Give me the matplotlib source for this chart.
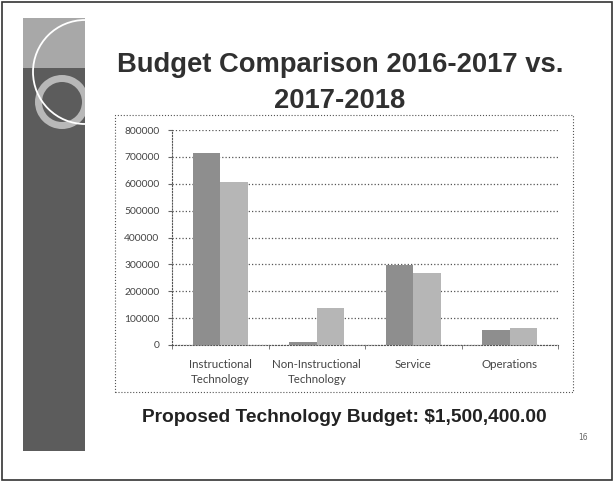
import numpy as np
import matplotlib
matplotlib.use('Agg')
from matplotlib import pyplot as plt
from matplotlib.patches import Rectangle, Circle, Wedge

categories = ['Instructional\nTechnology', 'Non-Instructional\nTechnology', 'Service', 'Operations']
budget_2016 = [715000, 10000, 298000, 55000]
budget_2017 = [605000, 138000, 268000, 63000]
yticks = [0, 100000, 200000, 300000, 400000, 500000, 600000, 700000, 800000]

W, H = 615, 483


def fx(x):
    return x / W


def fy(y):
    return 1 - y / H


fig = plt.figure(figsize=(W / 100, H / 100), dpi=100)
fig.patch.set_facecolor('white')

# slide frame
fig.add_artist(Rectangle((fx(2), fy(480)), fx(610), 478 / H, transform=fig.transFigure,
                         fill=False, ec='#333333', lw=1.2))

# decorative left strip
deco = fig.add_axes([fx(23), fy(451), fx(62), 433 / H])
deco.set_xlim(23, 85)
deco.set_ylim(451, 18)
deco.axis('off')
deco.add_patch(Rectangle((23, 18), 62, 433, fc='#5c5c5c', ec='none'))
deco.add_patch(Rectangle((23, 18), 62, 50, fc='#a8a8a8', ec='none'))
deco.add_patch(Wedge((62, 102), 27, 0, 360, width=7, fc='#b8b8b8', ec='none'))
deco.add_patch(Circle((85, 72), 52, fill=False, ec='white', lw=1.3))

# title
fig.text(fx(340), fy(65), 'Budget Comparison 2016-2017 vs.', ha='center', va='center',
         fontsize=19.7, fontweight='bold', family='Liberation Sans', color='#303030')
fig.text(fx(340), fy(101), '2017-2018', ha='center', va='center',
         fontsize=19.7, fontweight='bold', family='Liberation Sans', color='#303030')

# chart box
fig.add_artist(Rectangle((fx(115), fy(392)), fx(458), 277 / H, transform=fig.transFigure,
                         fill=False, ec='#555555', lw=0.8, ls=':'))

ax = fig.add_axes([fx(172), fy(345), fx(386), 215 / H])
x = np.arange(len(categories))
w = 0.285
ax.bar(x - w / 2, budget_2016, w, color='#8e8e8e', zorder=3)
ax.bar(x + w / 2, budget_2017, w, color='#b6b6b6', zorder=3)

ax.set_xlim(-0.5, len(categories) - 0.5)
ax.set_ylim(0, 800000)
ax.set_yticks(yticks)
ax.set_yticklabels([str(v) for v in yticks], fontsize=7.4, family='Lato', color='#444444')
ax.set_xticks(x)
ax.set_xticklabels(categories, fontsize=8.3, family='Lato', color='#444444', linespacing=1.45)
ax.tick_params(axis='x', length=0, pad=10)
ax.tick_params(axis='y', length=3, color='#666666', pad=6)
ax.set_xticks(np.arange(-0.5, len(categories)), minor=True)
ax.tick_params(axis='x', which='minor', length=3, color='#666666', direction='out')
ax.grid(axis='y', ls=':', color='#555555', lw=0.9, zorder=0)
for s in ['top', 'right']:
    ax.spines[s].set_visible(False)
for s in ['left', 'bottom']:
    ax.spines[s].set_linestyle(':')
    ax.spines[s].set_color('#555555')

fig.text(fx(344), fy(418), 'Proposed Technology Budget: $1,500,400.00', ha='center', va='center',
         fontsize=13.8, fontweight='bold', family='Liberation Sans', color='#222222')
fig.text(fx(583), fy(437), '16', ha='center', va='center', fontsize=5.5, color='#666666')

fig.savefig('out.png', dpi=100)
